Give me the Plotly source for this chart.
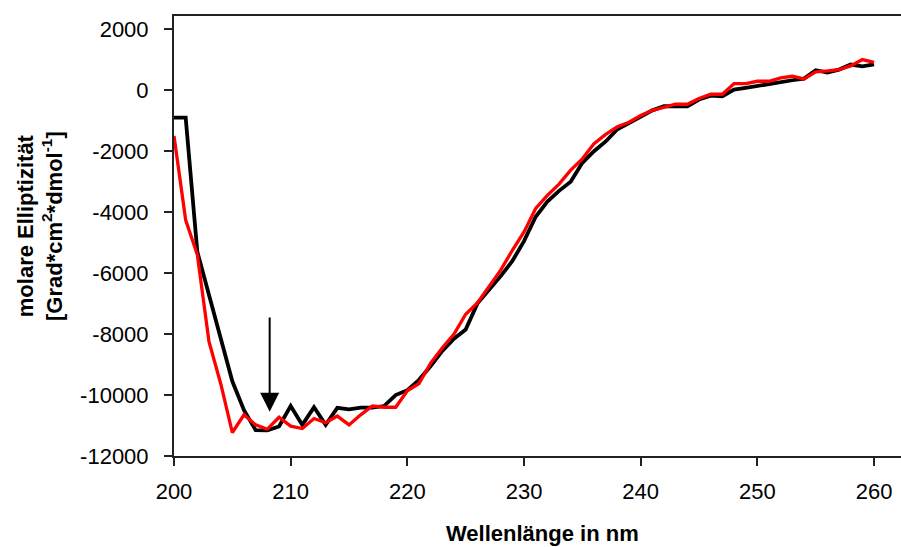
import plotly.graph_objects as go

wavelength = list(range(200, 261))

black_series = [
    -900, -900, -5300, -6700, -8100, -9550, -10500, -11150, -11160, -11030,
    -10360, -10980, -10400, -10980, -10420, -10470, -10410, -10410, -10360, -10000,
    -9840, -9500, -9050, -8550, -8150, -7850, -7000, -6550, -6100, -5600,
    -4950, -4150, -3650, -3300, -3000, -2380, -2000, -1680, -1280, -1080,
    -870, -660, -525, -525, -525, -306, -175, -197, 22, 77,
    142, 218, 284, 328, 382, 656, 579, 678, 842, 787,
    852,
]

red_series = [
    -1500, -4260, -5400, -8250, -9620, -11230, -10650, -10980, -11120, -10730,
    -11020, -11100, -10770, -10910, -10690, -10980, -10650, -10360, -10400, -10400,
    -9860, -9620, -8950, -8450, -8000, -7350, -6980, -6450, -5900, -5250,
    -4650, -3880, -3450, -3080, -2620, -2250, -1750, -1450, -1200, -1050,
    -830, -660, -560, -459, -459, -273, -131, -131, 218, 218,
    295, 295, 404, 459, 371, 601, 634, 678, 798, 1005,
    918,
]

x_ticks = [200, 210, 220, 230, 240, 250, 260]
y_ticks = [-12000, -10000, -8000, -6000, -4000, -2000, 0, 2000]

arrow_x = 208.2
arrow_tip_y = -10550
arrow_tail_y = -7410

x_title = "Wellenlänge in nm"
y_title = "molare Elliptizität<br>[Grad*cm<sup>2</sup>*dmol<sup>-1</sup>]"

fig = go.Figure()
fig.add_trace(go.Scatter(x=wavelength, y=black_series, mode="lines",
                         line=dict(color="#000000", width=3.8), showlegend=False))
fig.add_trace(go.Scatter(x=wavelength, y=red_series, mode="lines",
                         line=dict(color="#FF0000", width=3.3), showlegend=False))

font_family = "Liberation Sans, Arial, sans-serif"

fig.update_layout(
    width=901, height=547,
    margin=dict(l=174, r=0, t=16, b=91),
    paper_bgcolor="white", plot_bgcolor="white",
    font=dict(family=font_family, size=22, color="#000000"),
    xaxis=dict(
        range=[200, 262.31], tickvals=x_ticks, ticktext=[str(v) for v in x_ticks],
        showgrid=False, zeroline=False, showline=True, linecolor="#222222", linewidth=2,
        mirror=True, ticks="outside", ticklen=8, tickwidth=1.5, tickcolor="#222222",
        ticklabelstandoff=7, tickfont=dict(size=22),
    ),
    yaxis=dict(
        range=[-12000, 2436], tickvals=y_ticks, ticktext=[str(v) for v in y_ticks],
        showgrid=False, zeroline=False, showline=True, linecolor="#222222", linewidth=2,
        mirror=False, ticks="outside", ticklen=8, tickwidth=1.5, tickcolor="#222222",
        ticklabelstandoff=11, tickfont=dict(size=22),
    ),
    annotations=[
        dict(text="", x=arrow_x, y=arrow_tip_y, ax=arrow_x, ay=arrow_tail_y,
             xref="x", yref="y", axref="x", ayref="y", showarrow=True,
             arrowhead=2, arrowsize=1.9, arrowwidth=2, arrowcolor="#000000", standoff=0),
        dict(text="<b>" + x_title + "</b>", x=(542 - 174) / 727, y=(456 - 533) / 440,
             xref="paper", yref="paper", showarrow=False, xanchor="center", yanchor="middle",
             font=dict(size=22, family=font_family)),
        dict(text="<b>" + y_title + "</b>", x=(40 - 174) / 727, y=(456 - 226) / 440,
             xref="paper", yref="paper", showarrow=False, xanchor="center", yanchor="middle",
             textangle=-90, font=dict(size=22, family=font_family)),
    ],
)

fig.write_html("out.html")
